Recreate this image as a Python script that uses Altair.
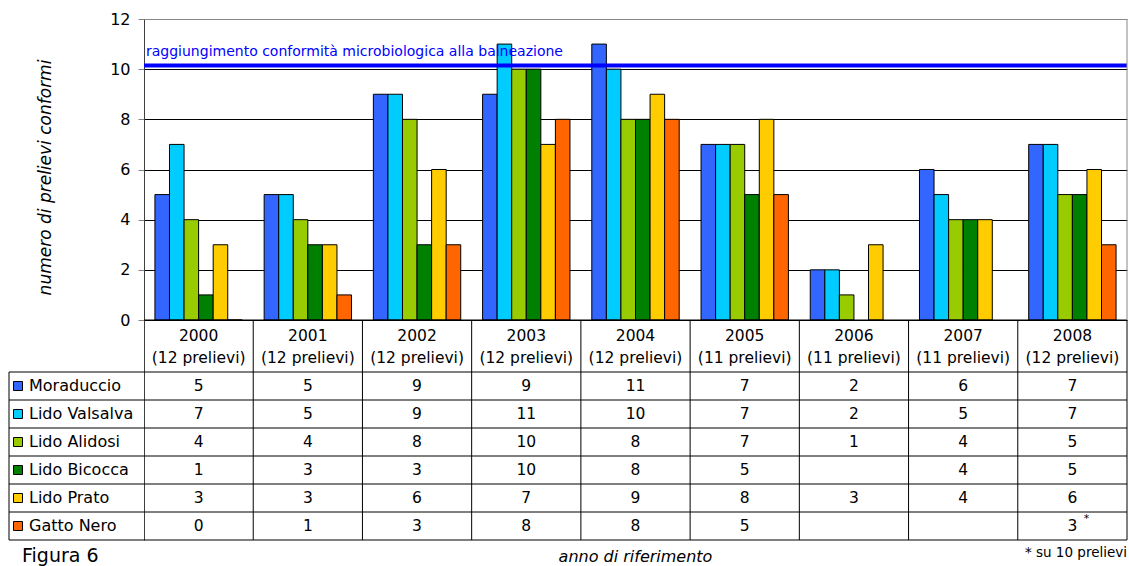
import altair as alt
import pandas as pd

# ---- data -------------------------------------------------------------
years = ["2000", "2001", "2002", "2003", "2004", "2005", "2006", "2007", "2008"]
samples = [12, 12, 12, 12, 12, 11, 11, 11, 12]
sites = ["Moraduccio", "Lido Valsalva", "Lido Alidosi", "Lido Bicocca", "Lido Prato", "Gatto Nero"]
site_colors = ["#3366FF", "#00CCFF", "#99CC00", "#008000", "#FFCC00", "#FF6600"]

moraduccio = [5, 5, 9, 9, 11, 7, 2, 6, 7]
lido_valsalva = [7, 5, 9, 11, 10, 7, 2, 5, 7]
lido_alidosi = [4, 4, 8, 10, 8, 7, 1, 4, 5]
lido_bicocca = [1, 3, 3, 10, 8, 5, None, 4, 5]
lido_prato = [3, 3, 6, 7, 9, 8, 3, 4, 6]
gatto_nero = [0, 1, 3, 8, 8, 5, None, None, 3]

conformity_level = 10.15
conformity_label = "raggiungimento conformità microbiologica alla balneazione"
y_ticks = [0, 2, 4, 6, 8, 10, 12]
y_title = "numero di prelievi conformi"
x_title = "anno di riferimento"
footnote = "* su 10 prelievi"
figure_label = "Figura 6"

series = [moraduccio, lido_valsalva, lido_alidosi, lido_bicocca, lido_prato, gatto_nero]

records = []
for s, (name, vals) in enumerate(zip(sites, series)):
    for i, v in enumerate(vals):
        if v is None:
            continue
        records.append({"site": name, "s": s, "i": i, "value": v, "label": str(v)})
values_df = pd.DataFrame(records)

years_df = pd.DataFrame({"year": years, "i": range(len(years)),
                         "samples": [f"({n} prelievi)" for n in samples]})
sites_df = pd.DataFrame({"site": sites, "s": range(len(sites))})

# ---- layout (plot area covers bars + table) ---------------------------
PLOT_W, BAR_H = 983, 301
HDR_PX, ROW_PX = 52, 28
PLOT_H = BAR_H + HDR_PX + len(sites) * ROW_PX
U = 12 / BAR_H                      # value units per pixel
HDR = HDR_PX * U
ROW = ROW_PX * U
Y_MIN = -(HDR + len(sites) * ROW)
COL_PX = PLOT_W / len(years)
LABEL_COL = -135 / COL_PX           # left edge of the site-name column
SLOTS = len(sites) + 1.5            # bar slots per year incl. gap

FONT = "DejaVu Sans"
xs = alt.Scale(domain=[0, len(years)], nice=False, zero=False)
ys = alt.Scale(domain=[Y_MIN, 12], nice=False, zero=False)
color = alt.Color("site:N", scale=alt.Scale(domain=sites, range=site_colors), legend=None)


def X(**kw):
    return alt.X(scale=xs, axis=None, **kw)


def Y(**kw):
    return alt.Y(scale=ys, **kw)


# ---- bars --------------------------------------------------------------
y_axis = alt.Axis(
    values=y_ticks, grid=True,
    gridColor={"condition": {"test": "datum.value === 12", "value": "#888888"}, "value": "#000000"},
    gridWidth=1, tickSize=6, tickColor="#808080", domainColor="#404040",
    labelFont=FONT, labelFontSize=16, labelColor="black", labelPadding=8,
    title=y_title, titleFont=FONT, titleFontSize=17, titleFontStyle="italic",
    titleFontWeight="normal", titleColor="black", titleX=-94, titleY=158,
    titleBaseline="alphabetic", titleAlign="center",
)

bars = alt.Chart(values_df).transform_calculate(
    x0=f"datum.i + (0.75 + datum.s) / {SLOTS}",
    x1=f"datum.i + (1.75 + datum.s) / {SLOTS}",
).mark_rect(stroke="black", strokeWidth=1).encode(
    x=X(field="x0", type="quantitative"),
    x2="x1:Q",
    y=alt.Y("value:Q", scale=ys, axis=y_axis),
    y2=alt.Y2(datum=0),
    color=color,
)

threshold = alt.Chart(pd.DataFrame({"v": [conformity_level]})).mark_rule(
    color="#0000FF", strokeWidth=4
).encode(y=Y(field="v", type="quantitative"))

threshold_text = alt.Chart(pd.DataFrame({"v": [conformity_level]})).mark_text(
    align="left", baseline="alphabetic", dx=2, dy=-9,
    color="#0000FF", font=FONT, fontSize=14,
).encode(x=X(datum=0), y=Y(field="v", type="quantitative"), text=alt.value(conformity_label))

# ---- table grid --------------------------------------------------------
h_lines = pd.DataFrame(
    [{"y": 0.0, "x0": 0.0, "x1": float(len(years))}]
    + [{"y": -HDR - k * ROW, "x0": LABEL_COL, "x1": float(len(years))} for k in range(len(sites) + 1)]
)
v_lines = pd.DataFrame(
    [{"x": float(i), "y0": 0.0, "y1": Y_MIN} for i in range(1, len(years) + 1)]
    + [{"x": LABEL_COL, "y0": -HDR, "y1": Y_MIN}]
)

h_rules = alt.Chart(h_lines).mark_rule(color="black", strokeWidth=1).encode(
    x=X(field="x0", type="quantitative"), x2="x1:Q", y=Y(field="y", type="quantitative")
)
v_rules = alt.Chart(v_lines).mark_rule(color="black", strokeWidth=1).encode(
    x=X(field="x", type="quantitative"), y=Y(field="y0", type="quantitative"), y2="y1:Q"
)
right_border = alt.Chart(pd.DataFrame({"x": [float(len(years))]})).mark_rule(
    color="#888888", strokeWidth=1
).encode(x=X(field="x", type="quantitative"), y=Y(datum=0), y2=alt.Y2(datum=12))

# ---- table header ------------------------------------------------------
hdr_base = alt.Chart(years_df).transform_calculate(xc="datum.i + 0.5")
hdr_year = hdr_base.mark_text(baseline="middle", font=FONT, fontSize=15.5, color="black").encode(
    x=X(field="xc", type="quantitative"), y=Y(datum=-15.5 * U), text="year:N"
)
hdr_samples = hdr_base.mark_text(baseline="middle", font=FONT, fontSize=15.5, color="black").encode(
    x=X(field="xc", type="quantitative"), y=Y(datum=-37.5 * U), text="samples:N"
)

# ---- table body --------------------------------------------------------
cells = alt.Chart(values_df).transform_calculate(
    xc="datum.i + 0.5", yc=f"-({HDR} + (datum.s + 0.5) * {ROW})"
).mark_text(baseline="middle", font=FONT, fontSize=15.5, color="black").encode(
    x=X(field="xc", type="quantitative"), y=Y(field="yc", type="quantitative"), text="label:N"
)

star = alt.Chart(values_df).transform_filter(
    f"datum.site === 'Gatto Nero' && datum.i === {len(years) - 1}"
).transform_calculate(
    xc="datum.i + 0.5", yc=f"-({HDR} + (datum.s + 0.5) * {ROW})"
).mark_text(baseline="middle", dx=14, dy=-7, font=FONT, fontSize=11, color="black").encode(
    x=X(field="xc", type="quantitative"), y=Y(field="yc", type="quantitative"), text=alt.value("*")
)

names_base = alt.Chart(sites_df).transform_calculate(yc=f"-({HDR} + (datum.s + 0.5) * {ROW})")
names = names_base.mark_text(align="left", baseline="middle", font=FONT, fontSize=16, color="black").encode(
    x=X(datum=LABEL_COL + 20 / COL_PX), y=Y(field="yc", type="quantitative"), text="site:N"
)
swatches = names_base.mark_square(size=81, stroke="black", strokeWidth=1, opacity=1).encode(
    x=X(datum=LABEL_COL + 9 / COL_PX), y=Y(field="yc", type="quantitative"), color=color
)

# ---- captions under the table -----------------------------------------
x_caption = alt.Chart(pd.DataFrame({"t": [x_title]})).mark_text(
    baseline="alphabetic", font=FONT, fontSize=16, fontStyle="italic", color="black"
).encode(x=X(datum=len(years) / 2), y=Y(datum=Y_MIN - 22 * U), text="t:N")

note = alt.Chart(pd.DataFrame({"t": [footnote]})).mark_text(
    align="right", baseline="alphabetic", font=FONT, fontSize=13.5, color="black"
).encode(x=X(datum=float(len(years))), y=Y(datum=Y_MIN - 17 * U), text="t:N")

fig = alt.Chart(pd.DataFrame({"t": [figure_label]})).mark_text(
    align="left", baseline="alphabetic", font=FONT, fontSize=19, color="black"
).encode(x=X(datum=LABEL_COL + 13 / COL_PX), y=Y(datum=Y_MIN - 22 * U), text="t:N")

chart = alt.layer(
    bars, threshold, threshold_text,
    h_rules, v_rules, right_border,
    hdr_year, hdr_samples, cells, star, names, swatches,
    x_caption, note, fig,
).properties(
    width=PLOT_W, height=PLOT_H,
    autosize=alt.AutoSizeParams(type="none"),
    padding={"left": 144, "top": 19, "right": 2, "bottom": 566 - 19 - PLOT_H},
    background="white",
).configure_view(stroke=None)

chart.save("out.html", embed_options={"renderer": "svg", "actions": False})
